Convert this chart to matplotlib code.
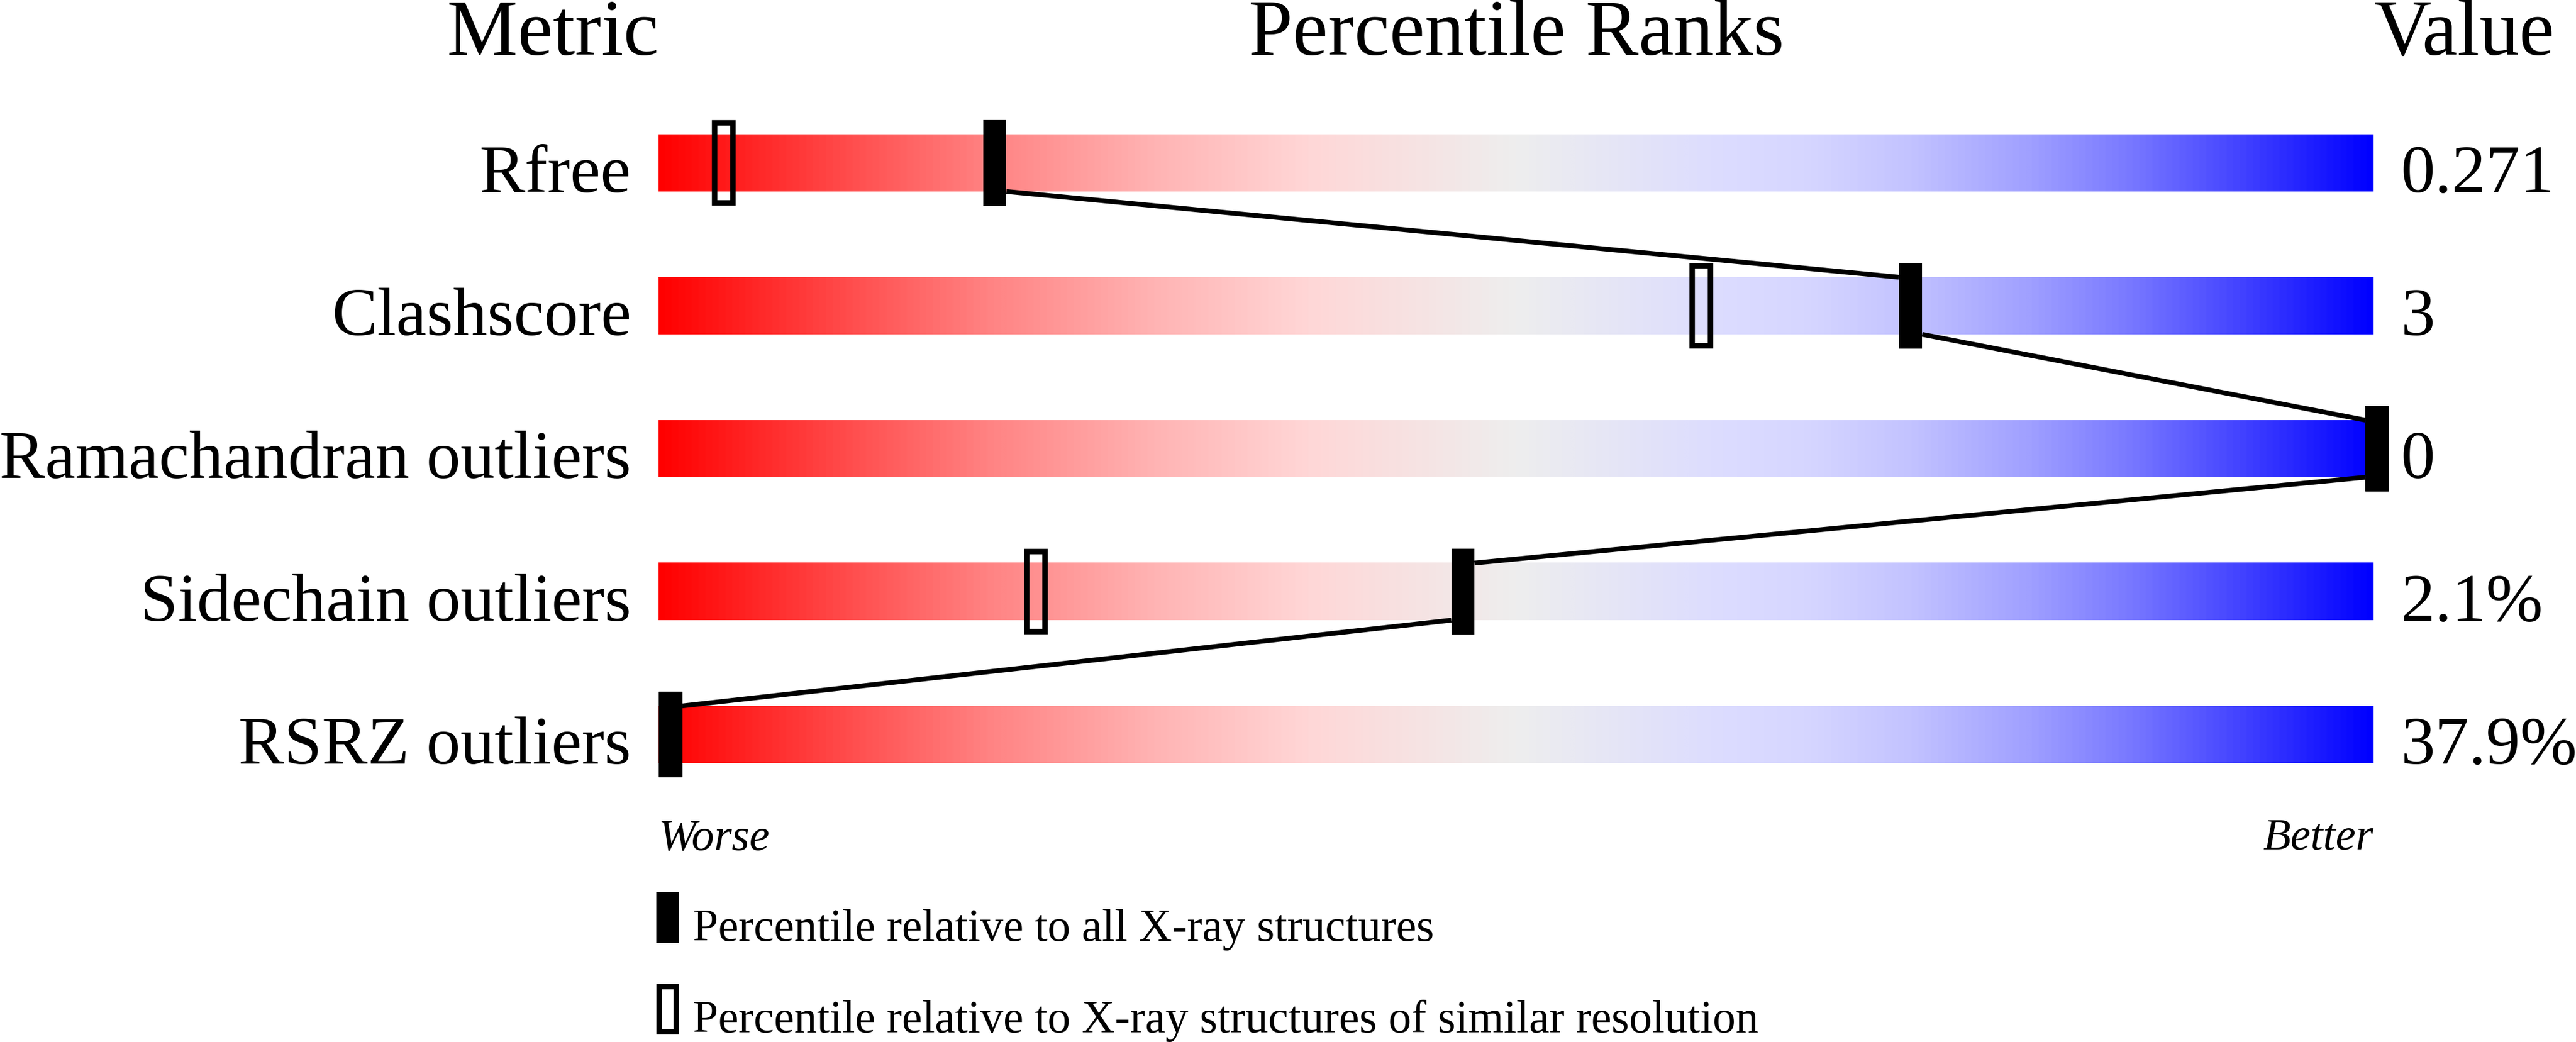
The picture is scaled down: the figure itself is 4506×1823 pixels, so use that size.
import numpy as np
import matplotlib
matplotlib.use('Agg')
import matplotlib.pyplot as plt
from matplotlib.colors import LinearSegmentedColormap
from matplotlib.patches import Rectangle

# slider data
metrics = ['Rfree', 'Clashscore', 'Ramachandran outliers', 'Sidechain outliers', 'RSRZ outliers']
values = ['0.271', '3', '0', '2.1%', '37.9%']
pct_all = [19.6, 73.0, 100.2, 46.9, 0.7]   # relative to all X-ray structures
pct_res = [3.8, 60.8, 100.2, 22.0, 0.7]    # relative to similar resolution
legend_text = ['Percentile relative to all X-ray structures',
               'Percentile relative to X-ray structures of similar resolution']

plt.rcParams['font.family'] = ['Liberation Serif', 'DejaVu Serif']

# red -> pink -> grey -> lavender -> blue
grad = LinearSegmentedColormap.from_list('slider', [
    (0.00, (1.0, 0.0, 0.0)),
    (0.10, (1.0, 70/255, 70/255)),
    (0.19, (1.0, 130/255, 130/255)),
    (0.29, (1.0, 180/255, 180/255)),
    (0.38, (1.0, 215/255, 215/255)),
    (0.50, (238/255, 238/255, 238/255)),
    (0.62, (220/255, 220/255, 1.0)),
    (0.67, (214/255, 214/255, 1.0)),
    (0.73, (195/255, 195/255, 1.0)),
    (0.80, (160/255, 160/255, 1.0)),
    (0.86, (120/255, 120/255, 1.0)),
    (0.92, (70/255, 70/255, 1.0)),
    (1.00, (0.0, 0.0, 1.0)),
])

fig = plt.figure(figsize=(45.06, 18.24), dpi=100)
ax = fig.add_axes([0, 0, 1, 1])
ax.axis('off')

bar_h = 0.4      # bar height in row units
mk_h = 0.6       # marker height
mk_w = 1.36      # marker width in percentile units
rows = np.arange(len(metrics))
g = np.linspace(0, 1, 1024).reshape(1, -1)

for r in rows:
    ax.imshow(g, cmap=grad, aspect='auto', interpolation='bilinear',
              extent=[0, 100, r + bar_h / 2, r - bar_h / 2], zorder=1)

# connecting line between the "all structures" markers
for i in range(len(rows) - 1):
    a, b = pct_all[i], pct_all[i + 1]
    s = 1 if b >= a else -1
    ax.plot([a + s * mk_w / 2, b - s * mk_w / 2],
            [rows[i] + bar_h / 2, rows[i + 1] - bar_h / 2],
            color='black', lw=6, solid_capstyle='butt', zorder=2)

# hollow markers (similar resolution)
lw_px = 9.5
dx = lw_px / 30 / 2
dy = lw_px / 250 / 2
for r, p in zip(rows, pct_res):
    ax.add_patch(Rectangle((p - mk_w / 2 + dx, r - mk_h / 2 + dy), mk_w - 2 * dx, mk_h - 2 * dy,
                           fill=False, edgecolor='black', lw=lw_px * 0.72, zorder=3))

# solid markers (all structures)
for r, p in zip(rows, pct_all):
    ax.add_patch(Rectangle((p - mk_w / 2, r - mk_h / 2), mk_w, mk_h,
                           facecolor='black', edgecolor='none', zorder=4))

# row labels and values
for r, name, v in zip(rows, metrics, values):
    ax.text(-1.6, r + bar_h / 2, name, ha='right', va='baseline', fontsize=86)
    ax.text(101.6, r + bar_h / 2, v, ha='left', va='baseline', fontsize=86)

# headers
ax.text(0, -0.76, 'Metric', ha='right', va='baseline', fontsize=100)
ax.text(50, -0.76, 'Percentile Ranks', ha='center', va='baseline', fontsize=100)
ax.text(100, -0.76, 'Value', ha='left', va='baseline', fontsize=100)

ax.text(0, 4.8, 'Worse', ha='left', va='baseline', fontsize=57, style='italic')
ax.text(100, 4.8, 'Better', ha='right', va='baseline', fontsize=57, style='italic')

# legend
ax.add_patch(Rectangle((-0.13, 5.104), 1.33, 0.356, facecolor='black', edgecolor='none'))
ax.add_patch(Rectangle((-0.13 + dx, 5.744 + dy), 1.33 - 2 * dx, 0.356 - 2 * dy,
                       fill=False, edgecolor='black', lw=lw_px * 0.72))
ax.text(2.0, 5.44, legend_text[0], ha='left', va='baseline', fontsize=57.5)
ax.text(2.0, 6.08, legend_text[1], ha='left', va='baseline', fontsize=57.5)

ax.set_xlim(-1152 / 30, (4506 - 1152) / 30)
ax.set_ylim((1824 - 286) / 250, -286 / 250)

fig.savefig('out.png', dpi=100, facecolor='white')
